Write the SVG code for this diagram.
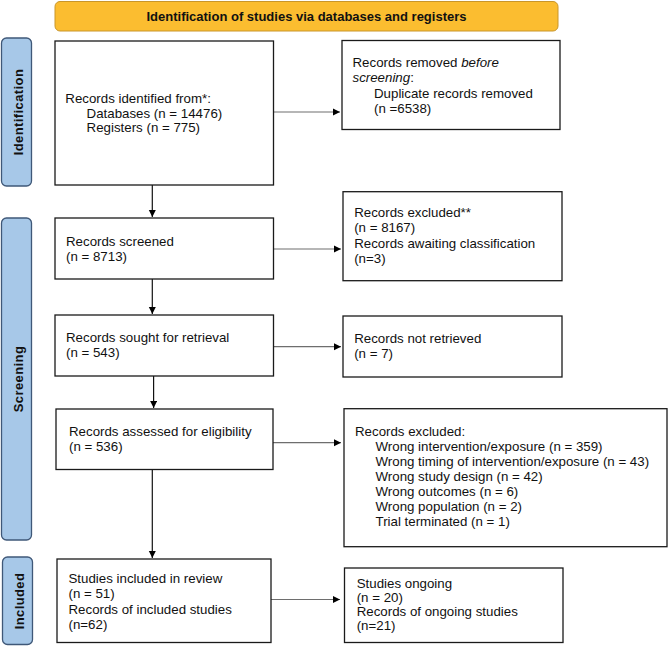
<svg xmlns="http://www.w3.org/2000/svg" width="669" height="646" viewBox="0 0 669 646">
<defs>
<style>
.box{fill:#fff;stroke:#1a1a1a;stroke-width:1.3}
.side{fill:#a7c8e8;stroke:#3f5878;stroke-width:1.3}
.hdr{fill:#fbbd30;stroke:#c9962a;stroke-width:1}
.t{font-family:"Liberation Sans",Arial,sans-serif;font-size:13.3px;fill:#111}
.h{font-family:"Liberation Sans",Arial,sans-serif;font-size:13px;font-weight:bold;fill:#111}
.s{font-family:"Liberation Sans",Arial,sans-serif;font-size:13px;font-weight:bold;fill:#111;letter-spacing:0.4px}
.hl{stroke:#6e6e6e;stroke-width:1.2;fill:none}
.vl{stroke:#111;stroke-width:1.2;fill:none}
</style>
<marker id="ah" markerUnits="userSpaceOnUse" markerWidth="9" markerHeight="9" refX="7.5" refY="3.75" orient="auto">
<path d="M0,0 L7.5,3.75 L0,7.5 z" fill="#000"/>
</marker>
</defs>
<rect width="669" height="646" fill="#fff"/>

<g id="header">
<rect class="hdr" x="55" y="1.5" width="503" height="29.5" rx="5"/>
<text class="h" x="306.5" y="20.5" text-anchor="middle">Identification of studies via databases and registers</text>
</g>

<g id="side-identification">
<rect class="side" x="1.5" y="38" width="30" height="148" rx="5"/>
<text class="s" transform="translate(22.5,112) rotate(-90)" text-anchor="middle">Identification</text>
</g>
<g id="side-screening">
<rect class="side" x="1.5" y="218" width="30" height="322" rx="5"/>
<text class="s" transform="translate(22.5,379) rotate(-90)" text-anchor="middle">Screening</text>
</g>
<g id="side-included">
<rect class="side" x="2.5" y="557" width="30" height="87.5" rx="5"/>
<text class="s" transform="translate(23.5,601) rotate(-90)" text-anchor="middle">Included</text>
</g>

<g id="connectors">
<line class="vl" x1="152.3" y1="185" x2="152.3" y2="217" marker-end="url(#ah)"/>
<line class="vl" x1="152.3" y1="279" x2="152.3" y2="314" marker-end="url(#ah)"/>
<line class="vl" x1="153.6" y1="376" x2="153.6" y2="408" marker-end="url(#ah)"/>
<line class="vl" x1="152.3" y1="469.5" x2="152.3" y2="558" marker-end="url(#ah)"/>
<line class="hl" x1="273.5" y1="112" x2="340" y2="112" marker-end="url(#ah)"/>
<line class="hl" x1="273.5" y1="249" x2="341" y2="249" marker-end="url(#ah)"/>
<line class="hl" x1="273.5" y1="346.7" x2="341" y2="346.7" marker-end="url(#ah)"/>
<line class="hl" x1="273" y1="442.7" x2="341" y2="442.7" marker-end="url(#ah)"/>
<line class="hl" x1="271" y1="599.5" x2="340" y2="599.5" marker-end="url(#ah)"/>
</g>

<g id="identified">
<rect class="box" x="55" y="41" width="218.5" height="144"/>
<text class="t" x="65.3" y="103">Records identified from*:<tspan x="86.6" y="117.5">Databases (n = 14476)</tspan><tspan x="86.6" y="132">Registers (n = 775)</tspan></text>
</g>

<g id="removed">
<rect class="box" x="342" y="40.5" width="218" height="89"/>
<text class="t" x="352.5" y="67">Records removed <tspan font-style="italic">before</tspan><tspan x="352.5" y="82" font-style="italic">screening</tspan>:<tspan x="374" y="97.5">Duplicate records removed</tspan><tspan x="374" y="113">(n =6538)</tspan></text>
</g>

<g id="screened">
<rect class="box" x="55" y="218" width="218.5" height="61"/>
<text class="t" x="66" y="245.7">Records screened<tspan x="66" y="260.5">(n = 8713)</tspan></text>
</g>

<g id="excluded1">
<rect class="box" x="343" y="191.7" width="219" height="89"/>
<text class="t" x="354.2" y="217">Records excluded**<tspan x="354.2" y="232">(n = 8167)</tspan><tspan x="354.2" y="247.5">Records awaiting classification</tspan><tspan x="354.2" y="262.5">(n=3)</tspan></text>
</g>

<g id="sought">
<rect class="box" x="55" y="315" width="218.5" height="61"/>
<text class="t" x="66" y="341.5">Records sought for retrieval<tspan x="66" y="356.5">(n = 543)</tspan></text>
</g>

<g id="notretrieved">
<rect class="box" x="343" y="316" width="219" height="61"/>
<text class="t" x="354.2" y="343">Records not retrieved<tspan x="354.2" y="358">(n = 7)</tspan></text>
</g>

<g id="assessed">
<rect class="box" x="56" y="409" width="217" height="60.5"/>
<text class="t" x="69" y="435.5">Records assessed for eligibility<tspan x="69" y="451">(n = 536)</tspan></text>
</g>

<g id="excluded2">
<rect class="box" x="344" y="408.7" width="323" height="138"/>
<text class="t" x="355" y="436">Records excluded:<tspan x="375.5" y="451">Wrong intervention/exposure (n = 359)</tspan><tspan x="375.5" y="466">Wrong timing of intervention/exposure (n = 43)</tspan><tspan x="375.5" y="481">Wrong study design (n = 42)</tspan><tspan x="375.5" y="496">Wrong outcomes (n = 6)</tspan><tspan x="375.5" y="511">Wrong population (n = 2)</tspan><tspan x="375.5" y="526">Trial terminated (n = 1)</tspan></text>
</g>

<g id="included">
<rect class="box" x="57" y="559" width="214" height="83.5"/>
<text class="t" x="68.5" y="582.5">Studies included in review<tspan x="68.5" y="598">(n = 51)</tspan><tspan x="68.5" y="613.5">Records of included studies</tspan><tspan x="68.5" y="629">(n=62)</tspan></text>
</g>

<g id="ongoing">
<rect class="box" x="344.5" y="568" width="218.5" height="74.5"/>
<text class="t" x="356.7" y="588">Studies ongoing<tspan x="356.7" y="602">(n = 20)</tspan><tspan x="356.7" y="616">Records of ongoing studies</tspan><tspan x="356.7" y="630">(n=21)</tspan></text>
</g>
</svg>
